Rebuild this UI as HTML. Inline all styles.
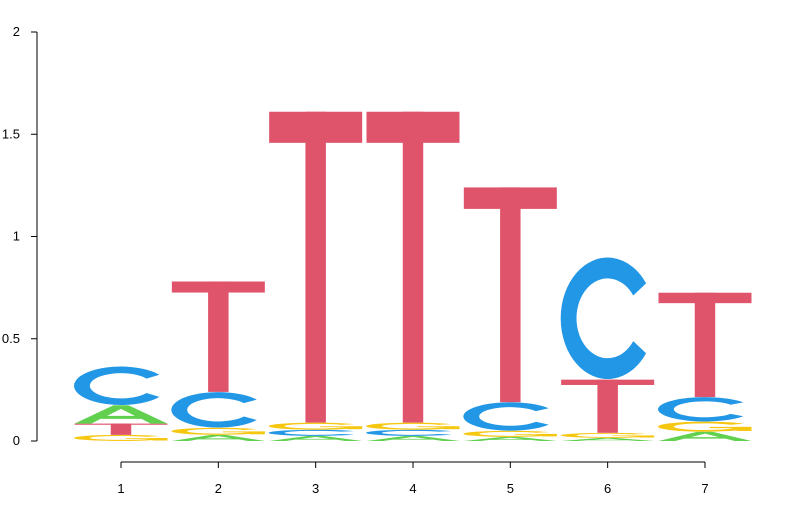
<!DOCTYPE html>
<html><head><meta charset="utf-8"><style>
html,body{margin:0;padding:0;background:#fff;}
svg text{font-family:"Liberation Sans",sans-serif;font-size:13px;fill:#000;}
</style></head><body>
<svg id="chart" width="800" height="500" xmlns="http://www.w3.org/2000/svg">
<g id="axes"></g>
<g id="marks"></g>
</svg>
<script>
const positions = [1,2,3,4,5,6,7];
const heightsA = [0.09, 0.03, 0.025, 0.025, 0.02, 0.015, 0.045];
const heightsC = [0.19, 0.175, 0.03, 0.03, 0.14, 0.6, 0.12];
const heightsG = [0.03, 0.035, 0.035, 0.035, 0.03, 0.025, 0.05];
const heightsT = [0.055, 0.54, 1.52, 1.52, 1.05, 0.26, 0.51];
const yTicks = [0, 0.5, 1, 1.5, 2];
const yTickLabels = ["0", "0.5", "1", "1.5", "2"];

const NS = "http://www.w3.org/2000/svg";
const x = p => 121 + (p - 1) * 97.33;
const y = v => 441 - v * 204.5;
const colors = {A:"#61D04F", C:"#2297E6", G:"#F5C710", T:"#DF536B"};
function mk(tag, attrs, parent){const e=document.createElementNS(NS,tag);for(const k in attrs)e.setAttribute(k,attrs[k]);parent.appendChild(e);return e;}

const axes = document.getElementById('axes');
let yl = mk('line',{x1:37,y1:y(0),x2:37,y2:y(2),stroke:'#000'},axes);


yTicks.forEach((t,i)=>{
  let l = mk('line',{x1:31,y1:y(t),x2:37,y2:y(t),stroke:'#000'},axes);
  
  
  let tx = mk('text',{x:20,y:y(t)+4,'text-anchor':'end'},axes);
  tx.textContent = yTickLabels[i];
  
  
});
let xl = mk('line',{x1:x(positions[0]),y1:462,x2:x(positions[positions.length-1]),y2:462,stroke:'#000'},axes);


positions.forEach(p=>{
  let l = mk('line',{x1:x(p),y1:462,x2:x(p),y2:468,stroke:'#000'},axes);
  
  
  let tx = mk('text',{x:x(p),y:493,'text-anchor':'middle'},axes);
  tx.textContent = String(p);
  
  
});

function arcPath(cx,cy,rx,ry,a0,a1){
  const r=Math.PI/180;
  const sx=cx+rx*Math.cos(a0*r), sy=cy-ry*Math.sin(a0*r);
  const ex=cx+rx*Math.cos(a1*r), ey=cy-ry*Math.sin(a1*r);
  return `M${sx},${sy} A${rx},${ry} 0 1 0 ${ex},${ey}`;
}
function drawLetter(g, letter, x0, yTop, w, h){
  const grp = mk('g',{transform:`translate(${x0},${yTop}) scale(${w/100},${h/100})`},g);
  const c = colors[letter];
  if(letter==='T'){
    mk('rect',{x:0,y:0,width:100,height:10,fill:c},grp);
    mk('rect',{x:39,y:0,width:22,height:100,fill:c},grp);
  } else if(letter==='C'){
    mk('path',{d:arcPath(50,50,42,41,35,-35),fill:'none',stroke:c,'stroke-width':17},grp);
  } else if(letter==='G'){
    mk('path',{d:arcPath(50,50,42,41,35,-10),fill:'none',stroke:c,'stroke-width':17},grp);
    mk('rect',{x:55,y:52,width:45,height:12,fill:c},grp);
    mk('rect',{x:84,y:52,width:16,height:40,fill:c},grp);
  } else if(letter==='A'){
    mk('path',{d:'M0,100 L42,0 L58,0 L100,100 L82,100 L72,74 L28,74 L18,100 Z M35,58 L50,20 L65,58 Z',fill:c,'fill-rule':'evenodd'},grp);
  }
  return grp;
}
const marks = document.getElementById('marks');
const W = 93;
positions.forEach((p,i)=>{
  const stack = [['A',heightsA[i]],['C',heightsC[i]],['G',heightsG[i]],['T',heightsT[i]]].sort((a,b)=>a[1]-b[1]);
  const col = mk('g',{},marks);
  
  
  let base = 0;
  stack.forEach(([L,v])=>{
    const top = y(base+v), bot = y(base);
    const el = drawLetter(col, L, x(p)-W/2, top, W, bot-top);
    
    
    base += v;
  });
});
</script>
</body></html>
